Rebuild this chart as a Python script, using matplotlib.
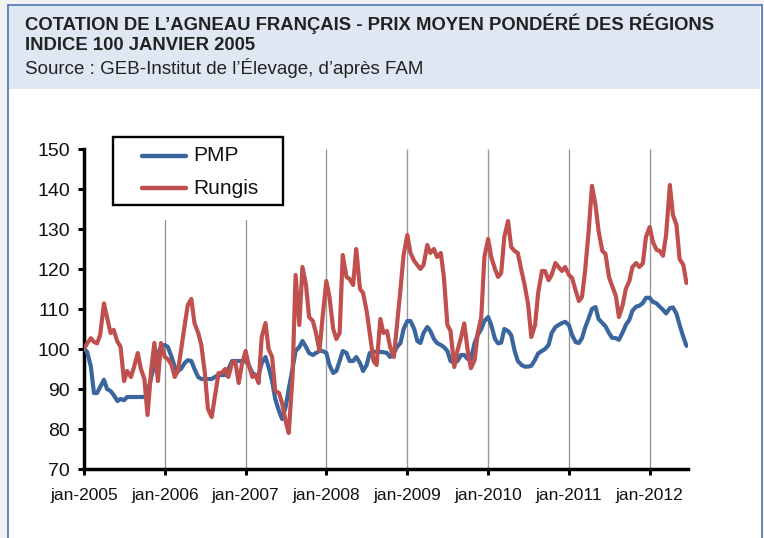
import matplotlib
matplotlib.use("Agg")
import matplotlib.pyplot as plt
from matplotlib.patches import Rectangle
from matplotlib.lines import Line2D
import pandas as pd

# ---- data: semi-monthly readings, index 100 = janvier 2005 ----
pmp_2005 = [100, 99.3, 95.6, 89, 89, 90.5, 92.3, 90, 89.5, 88.5, 87, 87.5,
            87.2, 88, 88, 88, 88, 88, 88, 89, 93, 96, 99, 100.5]
pmp_2006 = [101, 100.5, 98, 95.5, 94.5, 95, 96.5, 97.2, 97, 95, 93, 92.5,
            92.5, 92.5, 92.5, 93, 93.5, 93.5, 93.5, 95, 97, 97, 97, 97]
pmp_2007 = [97, 96, 94, 93.5, 93.5, 96.5, 98, 95.5, 92, 87.5, 84.5, 82.5,
            85.5, 90, 95, 99.5, 100.5, 102, 100.5, 99, 98.5, 99, 99.5, 99.5]
pmp_2008 = [99, 96, 94, 94.5, 97, 99.5, 99, 97, 97, 98, 96.5, 94.5,
            96, 99, 99.3, 99.3, 99.3, 99.2, 99, 98, 99, 100.5, 101.5, 105]
pmp_2009 = [107, 107, 105, 102, 101.5, 104, 105.5, 104.5, 102.5, 101.5, 101, 100.5,
            99.5, 97, 96.5, 97, 98.5, 98.5, 97.5, 97.5, 101.5, 103.5, 105, 107]
pmp_2010 = [108, 106, 102.5, 101.4, 101.6, 105, 104.5, 103.5, 99.5, 97, 96, 95.6,
            95.6, 95.8, 97.3, 98.9, 99.5, 100, 101, 104, 105.5, 106, 106.5, 106.8]
pmp_2011 = [106, 103.5, 101.7, 101.5, 102.7, 105.3, 107.8, 110, 110.5, 107.5, 106.5, 105.7,
            104, 102.8, 102.7, 102.3, 104.2, 106, 107.3, 109.6, 110.6, 110.8, 111.5, 112.8]
pmp_2012 = [112.8, 111.8, 111.4, 110.6, 109.8, 108.9, 110.2, 110.4, 108.8, 106, 103, 100.8]

rungis_2005 = [100, 101.4, 102.7, 101.8, 101.4, 103.5, 111.4, 108, 104, 104.8, 101.8, 100.6,
               92, 94.5, 93, 95.5, 99, 95, 92.5, 83.5, 95, 101.5, 92, 101.5]
rungis_2006 = [98, 97.5, 96, 93, 94.5, 99.5, 106, 111, 112.5, 106.5, 104, 101,
               94, 85, 83, 88, 94, 94, 95, 93, 96.5, 97, 91.5, 96]
rungis_2007 = [99.5, 96, 93, 93.5, 91.5, 103, 106.5, 100, 98, 89.5, 89, 86.5,
               82, 79, 93, 118.5, 106, 120.5, 116, 108, 107, 104, 99.5, 108]
rungis_2008 = [117, 113, 105, 102.5, 104, 123.5, 118, 117.5, 116, 125, 115, 114,
               109.5, 104, 97, 96, 107.5, 104, 104.5, 100.5, 98, 106, 115, 123.5]
rungis_2009 = [128.5, 124, 122, 121, 120, 121, 126, 124, 125, 123, 124, 118,
               106, 104.5, 95.5, 99.5, 103, 106.4, 99.5, 95.2, 97.2, 104, 108, 123]
rungis_2010 = [127.5, 123, 120, 118, 119, 128, 132, 125.5, 124.5, 124, 119.5, 116,
               111, 103, 106, 114, 119.5, 119.5, 117.2, 118.5, 121.5, 120.5, 119.5, 120.5]
rungis_2011 = [118.5, 117.8, 114.5, 112, 113, 119.5, 130, 140.8, 136, 129.5, 124.5, 123.8,
               118, 115.8, 113.3, 108, 111, 115, 117, 120.5, 121.5, 120.5, 121.4, 128]
rungis_2012 = [130.5, 126.8, 124.8, 124.5, 123.3, 128.5, 141, 133.5, 131, 122.5, 121, 116.5]

years = list(range(2005, 2013))
year_labels = ["jan-2005", "jan-2006", "jan-2007", "jan-2008",
               "jan-2009", "jan-2010", "jan-2011", "jan-2012"]
y_ticks = [70, 80, 90, 100, 110, 120, 130, 140, 150]
series_names = ["PMP", "Rungis"]

pmp = (pmp_2005 + pmp_2006 + pmp_2007 + pmp_2008 + pmp_2009
       + pmp_2010 + pmp_2011 + pmp_2012)
rungis = (rungis_2005 + rungis_2006 + rungis_2007 + rungis_2008 + rungis_2009
          + rungis_2010 + rungis_2011 + rungis_2012)
dates = pd.date_range("2005-01-01", periods=len(pmp), freq="SMS")

BLUE, RED = "#3a66a0", "#c0504d"
W, H = 764, 538


def fx(px):
    return px / W


def fy(py):
    return 1 - py / H


plt.rcParams["font.family"] = ["Liberation Sans", "DejaVu Sans"]
fig = plt.figure(figsize=(W / 100, H / 100), dpi=100, facecolor="#f1f1f1")

# panel frame + header band
fig.patches.append(Rectangle((fx(8), -0.01), fx(754), 1 - 5 / H + 0.01,
                             transform=fig.transFigure, facecolor="white",
                             edgecolor="#4a72b0", lw=1.2, zorder=-2))
fig.patches.append(Rectangle((fx(9), fy(89)), fx(751), 83 / H,
                             transform=fig.transFigure, facecolor="#dfe7f2",
                             edgecolor="none", zorder=-1))
fig.text(fx(25), fy(24), "COTATION DE L\u2019AGNEAU FRAN\u00c7AIS - PRIX MOYEN POND\u00c9R\u00c9 DES R\u00c9GIONS",
         fontsize=13.3, fontweight="bold", color="#222222", va="center", ha="left")
fig.text(fx(25), fy(46), "INDICE 100 JANVIER 2005",
         fontsize=13.3, fontweight="bold", color="#222222", va="center", ha="left")
fig.text(fx(25), fy(68), "Source : GEB-Institut de l\u2019\u00c9levage, d\u2019apr\u00e8s FAM",
         fontsize=13.5, color="#222222", va="center", ha="left")

ax = fig.add_axes([fx(84), fy(469), fx(604), 320 / H])
ax.set_facecolor("none")

ax.vlines(pd.to_datetime([f"{y}-01-01" for y in years[1:]]), 70, 150,
          color="#9a9a9a", lw=1, zorder=0.5)

ax.plot(dates, pmp, color=BLUE, lw=3, zorder=3,
        solid_joinstyle="round", solid_capstyle="round")
ax.plot(dates, rungis, color=RED, lw=3, zorder=4,
        solid_joinstyle="round", solid_capstyle="round")

ax.set_xlim(pd.Timestamp("2005-01-01"), pd.Timestamp("2012-06-22"))
ax.set_ylim(70, 150)
ax.set_yticks(y_ticks)
ax.set_xticks(pd.to_datetime([f"{y}-01-01" for y in years]))
ax.set_xticklabels(year_labels)

for side in ("top", "right"):
    ax.spines[side].set_visible(False)
for side in ("left", "bottom"):
    ax.spines[side].set_linewidth(2.5)
    ax.spines[side].set_color("black")
ax.tick_params(axis="both", direction="out", length=4, width=2.2, colors="black",
               labelcolor="#111111")
ax.tick_params(axis="x", labelsize=12.5, pad=10)
ax.tick_params(axis="y", labelsize=14, pad=6)

# legend box: white area (hides top of gridlines), frame, handles and labels
fig.patches.append(Rectangle((fx(110), fy(220)), fx(176), 86 / H,
                             transform=fig.transFigure, facecolor="white",
                             edgecolor="none", zorder=1))
fig.patches.append(Rectangle((fx(113), fy(205)), fx(170), 68 / H,
                             transform=fig.transFigure, facecolor="white",
                             edgecolor="black", lw=1.7, zorder=2))
for name, color, row in zip(series_names, [BLUE, RED], [155.7, 188.3]):
    fig.lines.append(Line2D([fx(142), fx(186)], [fy(row), fy(row)],
                            transform=fig.transFigure, color=color, lw=3.2,
                            solid_capstyle="round", zorder=3))
    fig.text(fx(193), fy(row), name, fontsize=15, color="#111111",
             va="center", ha="left", zorder=3)

fig.savefig("out.png", dpi=100, facecolor=fig.get_facecolor())
